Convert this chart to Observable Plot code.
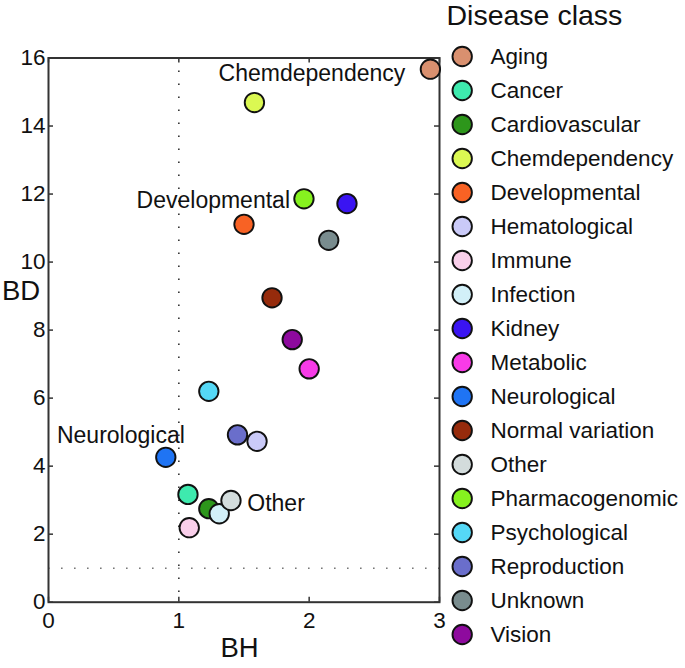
<!DOCTYPE html>
<html><head><meta charset="utf-8">
<script src="https://cdn.jsdelivr.net/npm/d3@7"></script>
<script src="https://cdn.jsdelivr.net/npm/@observablehq/plot@0.6"></script>
<style>
body{margin:0;background:#fff}
#chart{position:relative;width:685px;height:668px}
#chart svg{position:absolute;left:0;top:0}
</style>
</head><body><div id="chart"></div>
<script>
const classes = ["Aging","Cancer","Cardiovascular","Chemdependency","Developmental","Hematological","Immune","Infection","Kidney","Metabolic","Neurological","Normal variation","Other","Pharmacogenomic","Psychological","Reproduction","Unknown","Vision"];
const colors = ["#D9906F","#3EEAAE","#2D961B","#DBF852","#F86224","#CACAF8","#F9CFEA","#D2F0F8","#3A14F2","#F83BE8","#1F74F4","#962B0C","#D3DCDC","#86F21F","#55D8F6","#6A6ECB","#798C8E","#8E0A9E"];
const bhValues = [2.93,1.07,1.23,1.58,1.50,1.60,1.08,1.31,2.29,2.00,0.90,1.715,1.40,1.96,1.23,1.45,2.15,1.87];
const bdValues = [15.67,3.17,2.75,14.69,11.11,4.73,2.19,2.60,11.72,6.86,4.26,8.95,2.99,11.86,6.20,4.92,10.64,7.72];
const drawOrder = ["Aging","Cancer","Cardiovascular","Chemdependency","Developmental","Immune","Infection","Kidney","Metabolic","Neurological","Normal variation","Other","Pharmacogenomic","Psychological","Reproduction","Hematological","Unknown","Vision"];
const xTicks = [0,1,2,3];
const yTicks = [0,2,4,6,8,10,12,14,16];
const thresholdBH = [1];
const thresholdBD = [1];
const xLabel = "BH", yLabel = "BD", legendTitle = "Disease class";

const points = drawOrder.map(name => { const i = classes.indexOf(name); return {name, bh: bhValues[i], bd: bdValues[i]}; });

const W = 685, H = 668, mL = 48, mR = 246, mT = 57.5, mB = 66.3;
const pw = W - mL - mR, ph = H - mT - mB;
const font = '"Liberation Sans", Arial, Helvetica, sans-serif';
const color = {domain: classes, range: colors};
const tickStyle = {stroke: "#333", strokeWidth: 1.5};
const ink = "#111";
const fmt = d3.format("d");
const lab = (name, opts) => Plot.text(points, {filter: d => d.name === name, x: "bh", y: "bd", text: "name", fontSize: 23, fill: ink, ...opts});

const main = Plot.plot({
  width: W, height: H, marginLeft: mL, marginRight: mR, marginTop: mT, marginBottom: mB,
  style: {fontFamily: font, background: "transparent", color: ink},
  x: {domain: [0, 3]}, y: {domain: [0, 16]}, color,
  marks: [
    Plot.ruleX(thresholdBH, {x: d => d, stroke: "#333", strokeWidth: 1.6, strokeDasharray: "1.6 11.4"}),
    Plot.ruleY(thresholdBD, {y: d => d, stroke: "#777", strokeWidth: 1.6, strokeDasharray: "1.6 11.4"}),
    Plot.ruleY(yTicks, {y: d => d, insetRight: pw - 5, ...tickStyle}),
    Plot.ruleY(yTicks, {y: d => d, insetLeft: pw - 5, ...tickStyle}),
    Plot.ruleX(xTicks, {x: d => d, insetTop: ph - 5, ...tickStyle}),
    Plot.ruleX(xTicks, {x: d => d, insetBottom: ph - 5, ...tickStyle}),
    Plot.frame({stroke: "#333", strokeWidth: 2}),
    Plot.axisY(yTicks, {tickSize: 0, tickPadding: 3, fontSize: 22.5, label: null, fill: ink, tickFormat: fmt}),
    Plot.axisX(xTicks, {tickSize: 0, tickPadding: 10, fontSize: 22.5, label: null, fill: ink, tickFormat: fmt}),
    Plot.text([yLabel], {text: d => d, frameAnchor: "left", textAnchor: "middle", lineAnchor: "middle", dx: -27.5, dy: -39, fontSize: 27.5, fill: ink}),
    Plot.text([xLabel], {text: d => d, frameAnchor: "bottom", textAnchor: "middle", lineAnchor: "middle", dx: -4.5, dy: 46, fontSize: 27.5, fill: ink}),
    Plot.dot(points, {x: "bh", y: "bd", fill: "name", stroke: ink, strokeWidth: 1.9, r: 9.7}),
    lab("Chemdependency", {dx: 57.5, dy: -29}),
    lab("Developmental", {dx: 46, dy: -23.5, textAnchor: "end"}),
    lab("Neurological", {dx: 19, dy: -22, textAnchor: "end"}),
    lab("Other", {dx: 16.3, dy: 3, textAnchor: "start"})
  ]
});

const legend = Plot.plot({
  width: W, height: H, margin: 0,
  style: {fontFamily: font, background: "transparent", color: ink},
  y: {type: "point", domain: classes, range: [55, 635], padding: 0, axis: null},
  color,
  marks: [
    Plot.dot(classes, {y: d => d, fill: d => d, frameAnchor: "left", dx: 461.7, r: 9.7, stroke: ink, strokeWidth: 1.9}),
    Plot.text(classes, {y: d => d, text: d => d, frameAnchor: "left", dx: 490, textAnchor: "start", lineAnchor: "middle", fontSize: 22.5, fill: ink}),
    Plot.text([legendTitle], {text: d => d, frameAnchor: "top-left", lineAnchor: "middle", dx: 446, dy: 15.5, textAnchor: "start", fontSize: 28.5, fill: ink})
  ]
});

const el = document.getElementById("chart");
el.append(main, legend);
</script>
</body></html>
